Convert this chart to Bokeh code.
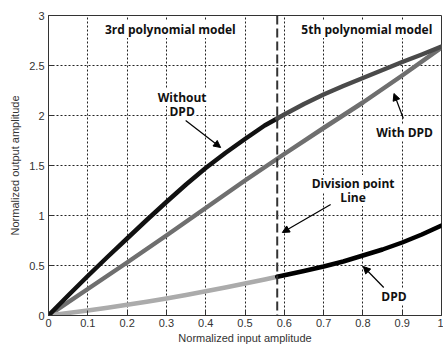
from bokeh.plotting import figure
from bokeh.models import Label, Arrow, NormalHead, Span, FixedTicker
from bokeh.embed import file_html
from bokeh.resources import INLINE

# Data
split_x = 0.582

x_left = [0, 0.05, 0.1, 0.15, 0.2, 0.25, 0.3, 0.35, 0.4, 0.45, 0.5, 0.55, 0.582]
without_left = [0, 0.20, 0.395, 0.585, 0.77, 0.955, 1.135, 1.31, 1.475, 1.625, 1.765, 1.90, 1.97]
dpd_left = [0, 0.025, 0.05, 0.078, 0.107, 0.138, 0.17, 0.205, 0.242, 0.28, 0.32, 0.36, 0.387]

x_right = [0.582, 0.6, 0.65, 0.7, 0.75, 0.8, 0.85, 0.9, 0.95, 1.0]
without_right = [1.97, 2.01, 2.115, 2.21, 2.295, 2.375, 2.455, 2.535, 2.61, 2.69]
dpd_right = [0.387, 0.403, 0.445, 0.49, 0.54, 0.60, 0.66, 0.73, 0.81, 0.90]

x_with = [0, 0.1, 0.2, 0.3, 0.4, 0.5, 0.6, 0.7, 0.8, 0.9, 1.0]
with_dpd = [0, 0.265, 0.53, 0.80, 1.075, 1.35, 1.615, 1.875, 2.13, 2.40, 2.68]

x_ticks = [0, 0.1, 0.2, 0.3, 0.4, 0.5, 0.6, 0.7, 0.8, 0.9, 1.0]
y_ticks = [0, 0.5, 1, 1.5, 2, 2.5, 3]

p = figure(width=443, height=347, output_backend="svg", toolbar_location=None,
           x_range=(0, 1), y_range=(0, 3),
           min_border_left=48, min_border_right=2, min_border_top=15, min_border_bottom=32)
p.background_fill_color = "white"
p.border_fill_color = "white"
p.outline_line_color = "#333333"
p.outline_line_width = 1

for ax in (p.xaxis[0], p.yaxis[0]):
    ax.major_tick_in = 5
    ax.major_tick_out = 0
    ax.minor_tick_in = 0
    ax.minor_tick_out = 0
    ax.axis_line_color = "#333333"
    ax.major_tick_line_color = "#333333"
    ax.major_label_text_font = "Liberation Sans"
    ax.major_label_text_font_size = "11px"
    ax.major_label_text_color = "#333333"
    ax.axis_label_text_font = "Liberation Sans"
    ax.axis_label_text_font_size = "11px"
    ax.axis_label_text_font_style = "normal"
    ax.axis_label_text_color = "#333333"

p.xaxis.ticker = FixedTicker(ticks=x_ticks)
p.yaxis.ticker = FixedTicker(ticks=y_ticks)
p.xaxis.major_label_overrides = {0: "0", 1: "1"}
p.yaxis.major_label_overrides = {0: "0", 1: "1", 2: "2", 3: "3"}
p.xaxis.axis_label = "Normalized input amplitude"
p.yaxis.axis_label = "Normalized output amplitude"
p.xaxis.major_label_standoff = 3
p.xaxis.axis_label_standoff = 2
p.yaxis.major_label_standoff = 4
p.yaxis.axis_label_standoff = 5

for g in (p.xgrid[0], p.ygrid[0]):
    g.grid_line_color = "#222222"
    g.grid_line_dash = "2 2"
    g.grid_line_width = 1
    g.grid_line_alpha = 1.0

lw = 4.5
kw = dict(line_width=lw, line_join="round", line_cap="round")
p.line(x_with, with_dpd, line_color="#6f6f6f", **kw)
p.line(x_left, dpd_left, line_color="#ababab", **kw)
p.line(x_right, dpd_right, line_color="#000000", **kw)
p.line(x_left, without_left, line_color="#111111", **kw)
p.line(x_right, without_right, line_color="#4a4a4a", **kw)

p.add_layout(Span(location=split_x, dimension="height", line_color="#333333",
                  line_width=2, line_dash="9 4"))

font = "Open Sans"
def lab(x, y, t):
    p.add_layout(Label(x=x, y=y, text=t, text_font=font, text_font_size="12px",
                       text_font_style="bold", text_align="center", text_baseline="middle",
                       text_color="#111111", background_fill_color="white",
                       background_fill_alpha=1.0))

lab(0.31, 2.86, "3rd polynomial model")
lab(0.81, 2.86, "5th polynomial model")
lab(0.34, 2.18, "Without")
lab(0.34, 2.04, "DPD")
lab(0.906, 1.83, "With DPD")
lab(0.775, 1.32, "Division point")
lab(0.775, 1.18, "Line")
lab(0.879, 0.19, "DPD")

def arr(x0, y0, x1, y1):
    p.add_layout(Arrow(end=NormalHead(size=7, fill_color="black", line_color="black"),
                       x_start=x0, y_start=y0, x_end=x1, y_end=y1,
                       line_color="black", line_width=1.2))

arr(0.349, 1.95, 0.438, 1.68)
arr(0.903, 1.97, 0.879, 2.22)
arr(0.718, 1.11, 0.595, 0.83)
arr(0.853, 0.28, 0.801, 0.49)

open("out.html", "w").write(file_html(p, INLINE))
